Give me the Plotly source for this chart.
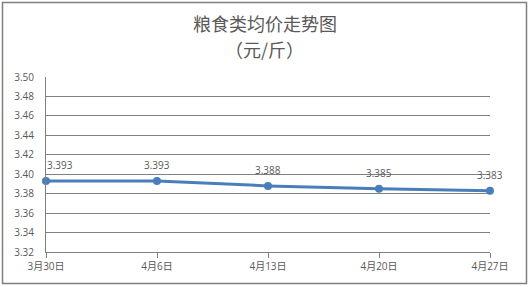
import plotly.graph_objects as go

dates = ["3月30日", "4月6日", "4月13日", "4月20日", "4月27日"]
prices = [3.393, 3.393, 3.388, 3.385, 3.383]
labels = ["3.393", "3.393", "3.388", "3.385", "3.383"]
title_line1 = "粮食类均价走势图"
title_line2 = "（元/斤）"

W, H = 529, 287
L, R, T, B = 46, 39, 77, 35
pw, ph = W - L - R, H - T - B

def px_x(x):
    return (x - L) / pw

def px_y(y):
    return (H - B - y) / ph

FONT = "Open Sans, Noto Sans CJK SC, sans-serif"
TXT = "#595959"
GRID = "#808080"

xs = list(range(len(dates)))
fig = go.Figure()
fig.add_trace(go.Scatter(
    x=xs, y=prices, mode="lines+markers",
    line=dict(color="#4a7ebb", width=3),
    marker=dict(color="#4a7ebb", size=8),
    cliponaxis=False, hoverinfo="skip",
))

for i, (x, y, t) in enumerate(zip(xs, prices, labels)):
    fig.add_annotation(x=x, y=y, text=t, showarrow=False,
                       xanchor="left" if i == 0 else "center",
                       yanchor="bottom", yshift=7, xshift=-1 if i == 0 else 0,
                       font=dict(family=FONT, size=10, color=TXT))

fig.update_layout(
    width=W, height=H, margin=dict(l=L, r=R, t=T, b=B),
    paper_bgcolor="white", plot_bgcolor="white", showlegend=False,
    font=dict(family=FONT, size=10, color=TXT),
    xaxis=dict(range=[0, 4], tickvals=xs, ticktext=dates, showgrid=False,
               zeroline=False, showline=True, linecolor=GRID, linewidth=1,
               ticks="outside", ticklen=5, tickcolor=GRID,
               tickfont=dict(family=FONT, size=10, color=TXT)),
    yaxis=dict(range=[3.32, 3.50], dtick=0.02, tick0=3.32, tickformat=".2f",
               showgrid=True, gridcolor=GRID, gridwidth=1, zeroline=False,
               showline=True, linecolor=GRID, linewidth=1, ticks="",
               ticklabelstandoff=9,
               tickfont=dict(family=FONT, size=10, color=TXT)),
)

fig.add_annotation(text=title_line1, xref="paper", yref="paper",
                   x=px_x(W / 2), y=px_y(23), showarrow=False,
                   xanchor="center", yanchor="middle",
                   font=dict(family="Noto Sans CJK SC", size=18, color=TXT))
fig.add_annotation(text=title_line2, xref="paper", yref="paper",
                   x=px_x(W / 2), y=px_y(49), showarrow=False,
                   xanchor="center", yanchor="middle",
                   font=dict(family="Noto Sans CJK SC", size=18, color=TXT))

fig.add_shape(type="rect", xref="paper", yref="paper",
              x0=px_x(2.5), x1=px_x(W - 2.5), y0=px_y(H - 3.5), y1=px_y(2.5),
              line=dict(color="#7f7f7f", width=1.5), fillcolor="rgba(0,0,0,0)",
              layer="below")

fig.write_html("out.html")
